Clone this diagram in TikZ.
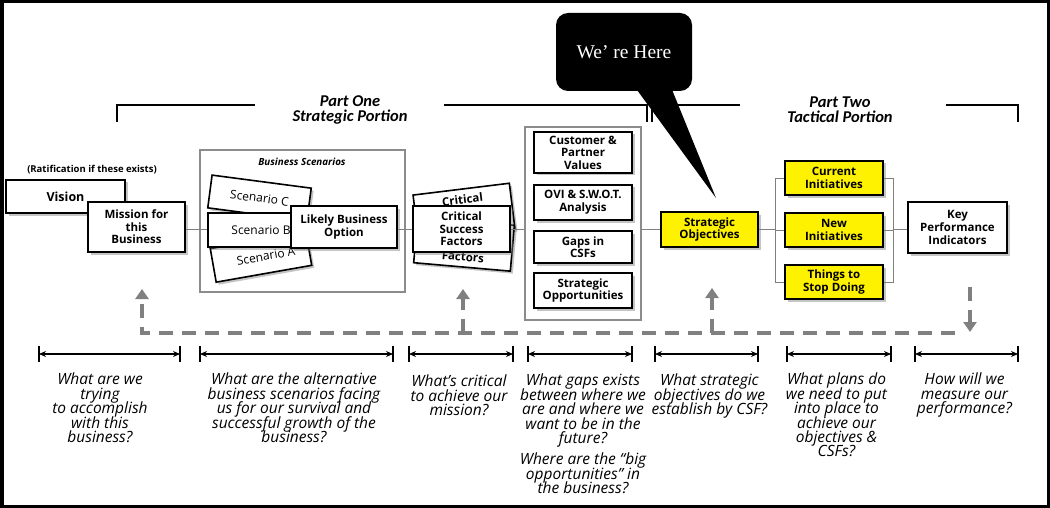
\documentclass[tikz,border=0pt]{standalone}
\usepackage{fontspec}
\setmainfont{Open Sans}
\newfontfamily\partfont{Carlito}
\newfontfamily\herefont{Liberation Serif}
\usetikzlibrary{arrows.meta,shadows}
\newcommand\qtextstyle{\itshape\fontsize{15.5}{14.4}\selectfont\setlength{\lineskiplimit}{-20pt}}
\begin{document}
\begin{tikzpicture}[x=1pt,y=-1pt,
  box/.style={draw=black, line width=1.6pt, fill=white, align=center, inner sep=1pt,
    font=\bfseries\fontsize{11.5}{12.6}\selectfont,
    drop shadow={shadow xshift=2.5pt, shadow yshift=-2.5pt, opacity=0.45}},
  ybox/.style={box, fill=yellow},
  card/.style={box, font=\fontsize{12}{13}\selectfont},
  grp/.style={draw=black!45, line width=1.2pt, fill=white},
  conn/.style={draw=black!50, line width=0.9pt},
  fb/.style={draw=black!50, line width=3.8pt, dash pattern=on 14pt off 9pt},
  fbarrow/.style={fb, -{Triangle[length=10pt,width=13pt]}},
  dim/.style={line width=1.1pt, {Stealth[length=7pt,width=6pt]}-{Stealth[length=7pt,width=6pt]}},
  tickmark/.style={line width=1.1pt},
  q/.style={font=\qtextstyle, align=center, anchor=north, inner sep=0pt},
  part/.style={font=\partfont\bfseries\itshape\fontsize{16.5}{15}\selectfont, align=center, inner sep=0pt},
  brk/.style={line width=1.1pt},
  bubble/.style={fill=black, rounded corners=12pt, minimum width=136pt, minimum height=78pt,
    text=white, font=\herefont\fontsize{19.5}{21}\selectfont}
]
\useasboundingbox (0,0) rectangle (1050,508);
\fill[white] (0,0) rectangle (1050,508);
\draw[line width=3.5pt] (1.75,1.75) rectangle (1048.25,506.25);

% ---- Part brackets
\node[part] (p1) at (350,110) {Part One\\Strategic Portion};
\node[part] (p2) at (840,110) {Part Two\\Tactical Portion};
\coordinate (p1a) at (117,122);
\coordinate (p1b) at (647,122);
\coordinate (p2a) at (652,122);
\coordinate (p2b) at (1018,122);
\draw[brk] (p1a) -- (117,105) -- (255,105);
\draw[brk] (444,105) -- (647,105) -- (p1b);
\draw[brk] (p2a) -- (652,105) -- (740,105);
\draw[brk] (946,105) -- (1018,105) -- (p2b);

% ---- group boxes
\node[grp, minimum width=205pt, minimum height=142pt] (G1) at (302.5,221) {};
\node[font=\bfseries\itshape\fontsize{9.8}{11}\selectfont] (G1t) at (302,162) {Business Scenarios};
\node[grp, minimum width=116pt, minimum height=193pt] (G2) at (583,223.5) {};

\coordinate (axis) at (0,229);
\node[box, font=\bfseries\fontsize{12.5}{14}\selectfont, minimum width=119pt, minimum height=33pt] (Vision) at (65.5,196.5) {Vision};
\node[box, minimum width=97pt, minimum height=50pt] (Mission) at (136.5,227) {Mission for\\this\\Business};
\node[font=\bfseries\fontsize{9.5}{11}\selectfont] (rat) at (92,170) {(Ratification if these exists)};

\node[card, minimum width=100pt, minimum height=33pt, rotate=-7.5] (ScenC) at (259.5,198) {Scenario C};
\node[card, minimum width=97pt, minimum height=34pt, rotate=10] (ScenA) at (261,257) {\hspace*{10pt}Scenario A};
\node[card, minimum width=97pt, minimum height=34pt] (ScenB) at (256.5,230) {\hspace*{9pt}Scenario B};
\node[box, minimum width=106pt, minimum height=42pt] (Likely) at (344,227) {Likely Business\\Option};

\node[box, minimum width=97pt, minimum height=46pt, rotate=7] (CSFt) at (464,212) {Critical\\\phantom{Success}\\\phantom{Factors}};
\node[box, minimum width=97pt, minimum height=46pt, rotate=-5] (CSFb) at (464,244) {\phantom{Critical}\\\phantom{Success}\\Factors};
\node[box, minimum width=97pt, minimum height=46pt] (CSF) at (461.5,229) {Critical\\Success\\Factors};

\node[box, minimum width=98pt, minimum height=41pt] (CPV) at (583,152.5) {Customer \&\\Partner\\Values};
\node[box, minimum width=98pt, minimum height=35pt] (OVI) at (583,202.5) {OVI \& S.W.O.T.\\Analysis};
\node[box, minimum width=98pt, minimum height=32pt] (Gaps) at (583,247) {Gaps in\\CSFs};
\node[box, minimum width=98pt, minimum height=35pt] (SOpp) at (583,290.5) {Strategic\\Opportunities};

\node[ybox, minimum width=97pt, minimum height=35pt] (SO) at (709.5,229.5) {Strategic\\Objectives};
\node[ybox, minimum width=98pt, minimum height=34pt] (Cur) at (834,178) {Current\\Initiatives};
\node[ybox, minimum width=98pt, minimum height=34pt] (New) at (834,230) {New\\Initiatives};
\node[ybox, minimum width=98pt, minimum height=34pt] (Stop) at (834,282) {Things to\\Stop Doing};
\node[box, minimum width=99pt, minimum height=51pt] (KPI) at (957.5,227.5) {Key\\Performance\\Indicators};

% ---- connectors along the main axis
\draw[conn] (Mission.east |- axis) -- (G1.west |- axis);
\draw[conn] (G1.west |- axis) -- (ScenB.west |- axis);
\draw[conn] (Likely.east |- axis) -- (CSF.west |- axis);
\draw[conn] (CSF.east |- axis) -- (G2.west |- axis);
\draw[conn] (G2.east |- axis) -- (SO.west |- axis);
\coordinate (bl) at (775,0);
\coordinate (br) at (893,0);
\draw[conn] (SO.east |- axis) -- (bl |- axis);
\draw[conn] (Cur.west) -- (Cur.west -| bl) -- (Stop.west -| bl) -- (Stop.west);
\draw[conn] (New.west -| bl) -- (New.west);
\draw[conn] (Cur.east) -- (Cur.east -| br) -- (Stop.east -| br) -- (Stop.east);
\draw[conn] (New.east) -- (New.east -| br);
\draw[conn] (br |- axis) -- (KPI.west |- axis);

% ---- speech bubble
\node[bubble] (we) at (624,52) {We’ re Here};
\coordinate (tip) at (716,198);
\fill[black] ([xshift=11pt,yshift=4pt]we.south) -- (tip) -- ([xshift=47pt,yshift=4pt]we.south) -- cycle;

% ---- feedback dashed loop
\coordinate (fbL) at (142,333);
\coordinate (fbR) at (955,333);
\coordinate (a1) at (142,289);
\coordinate (a2) at (463,289);
\coordinate (a3) at (712,288);
\coordinate (kTop) at (970,287);
\coordinate (kBot) at (970,332);
\draw[fbarrow] (fbR) -- (fbL) -- (a1);
\draw[fbarrow] (a2 |- fbL) -- (a2);
\draw[fbarrow] (a3 |- fbL) -- (a3);
\draw[fbarrow] (kTop) -- (kBot);

% ---- dimension arrows
\foreach \xa/\xb/\n in {39/180/1, 200/393/2, 409/513/3, 528/632/4, 655/758/5, 787/891/6, 915/1018/7}{
  \coordinate (d\n a) at (\xa,354);
  \coordinate (d\n b) at (\xb,354);
  \draw[dim] (d\n a) -- (d\n b);
  \draw[tickmark] ([yshift=8pt]d\n a) -- ([yshift=-8pt]d\n a);
  \draw[tickmark] ([yshift=8pt]d\n b) -- ([yshift=-8pt]d\n b);
}

% ---- questions
\node[q] (q1) at (100,373) {What are we\\trying\\to accomplish\\with this\\business?};
\node[q] (q2) at (294,373) {What are the alternative\\business scenarios facing\\us for our survival and\\successful growth of the\\business?};
\node[q] (q3) at (459,375) {What’s critical\\to achieve our\\mission?};
\node[q] (q4) at (583,374) {What gaps exists\\between where we\\are and where we\\want to be in the\\future?};
\node[q] (q4b) at (583,453) {Where are the “big\\opportunities” in\\the business?};
\node[q] (q5) at (709.5,374) {What strategic\\objectives do we\\establish by CSF?};
\node[q] (q6) at (836.5,373) {What plans do\\we need to put\\into place to\\achieve our\\objectives \&\\CSFs?};
\node[q] (q7) at (964.5,373) {How will we\\measure our\\performance?};
\end{tikzpicture}
\end{document}
